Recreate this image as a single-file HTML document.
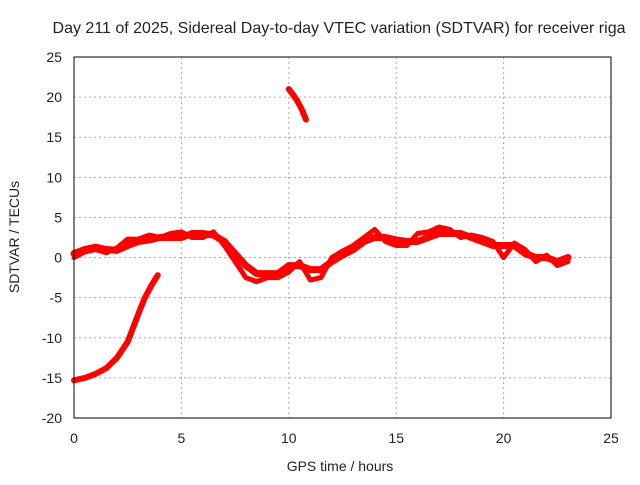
<!DOCTYPE html>
<html><head><meta charset="utf-8"><style>
body{margin:0;background:#fff;}
svg text{font-family:"Liberation Sans",sans-serif;font-size:14px;fill:#222;}
</style></head><body>
<svg id="chart" width="640" height="480" viewBox="0 0 640 480">
<rect width="640" height="480" fill="#fff"/>
<text x="339" y="33" text-anchor="middle" style="font-size:16px">Day 211 of 2025, Sidereal Day-to-day VTEC variation (SDTVAR) for receiver riga</text>
<text x="340" y="471" text-anchor="middle">GPS time / hours</text>
<text transform="translate(19,237) rotate(-90)" text-anchor="middle">SDTVAR / TECUs</text>
<g id="grid"></g><g id="ticks"></g><g id="series"></g>
<rect x="74" y="57" width="537" height="361" fill="none" stroke="#000"/>
</svg>
<script>
const xTicks=[0,5,10,15,20,25];
const yTicks=[-20,-15,-10,-5,0,5,10,15,20,25];
const bandHours=[0,0.5,1,1.5,2,2.5,3,3.5,4,4.5,5,5.5,6,6.5,7,7.5,8,8.5,9,9.5,10,10.5,11,11.5,12,12.5,13,13.5,14,14.5,15,15.5,16,16.5,17,17.5,18,18.5,19,19.5,20,20.5,21,21.5,22,22.5,23];
const bandA=[0.5,1,1.3,1,0.9,1.5,2,2.2,2.5,2.5,2.5,3,3,2.8,2,0.5,-1,-2,-2,-2,-1,-1,-1.5,-1.5,-0.5,0.3,1,2,2.5,2.5,2.2,2,2,2.5,3,3,3,2.5,2,1.5,1.5,1.5,0.5,0,0,-0.5,0];
const bandB=[0,0.7,1,0.6,1.2,2.3,2.3,2.8,2.5,3,3.2,2.5,2.5,3.2,1.5,-0.5,-2.5,-3,-2.5,-2.5,-1.8,-0.5,-2.8,-2.5,0,0.8,1.5,2.5,3.5,2,1.5,1.5,3,3.2,3.8,3.5,2.5,2.8,2.5,2,0,1.8,1,-0.5,0.3,-1,-0.5];
const lowHours=[0,0.5,1,1.5,2,2.5,3,3.3,3.6,3.9];
const lowVals=[-15.3,-15,-14.5,-13.8,-12.5,-10.5,-7,-5,-3.5,-2.2];
const highHours=[10,10.2,10.4,10.6,10.8];
const highVals=[21,20.3,19.5,18.5,17.2];
const X=h=>74+h*537/25, Y=v=>418-(v+20)*361/45;
const NS="http://www.w3.org/2000/svg";
function mk(tag,attrs,parent){const e=document.createElementNS(NS,tag);for(const k in attrs)e.setAttribute(k,attrs[k]);document.getElementById(parent).appendChild(e);return e;}
xTicks.forEach(t=>{
 const g=mk('line',{x1:X(t),x2:X(t),y1:57,y2:418,stroke:'#aaa','stroke-dasharray':'2,3'},'grid');
 
 
 const l=mk('text',{x:X(t),y:443,'text-anchor':'middle'},'ticks');l.textContent=t;
 
 
});
yTicks.forEach(t=>{
 const g=mk('line',{x1:74,x2:611,y1:Y(t),y2:Y(t),stroke:'#aaa','stroke-dasharray':'2,3'},'grid');
 
 
 const l=mk('text',{x:62,y:Y(t)+5,'text-anchor':'end'},'ticks');l.textContent=t;
 
 
});
function line(hs,vs,w,name){
 const p=mk('polyline',{points:hs.map((h,i)=>X(h)+','+Y(vs[i])).join(' '),fill:'none',stroke:'#f00','stroke-width':w,'stroke-linejoin':'round','stroke-linecap':'round'},'series');
 
 
}
line(bandHours,bandA,7,'series-band-a');
line(bandHours,bandB,5,'series-band-b');
line(lowHours,lowVals,6,'series-low-arc');
line(highHours,highVals,6,'series-high-arc');
</script>
</body></html>
